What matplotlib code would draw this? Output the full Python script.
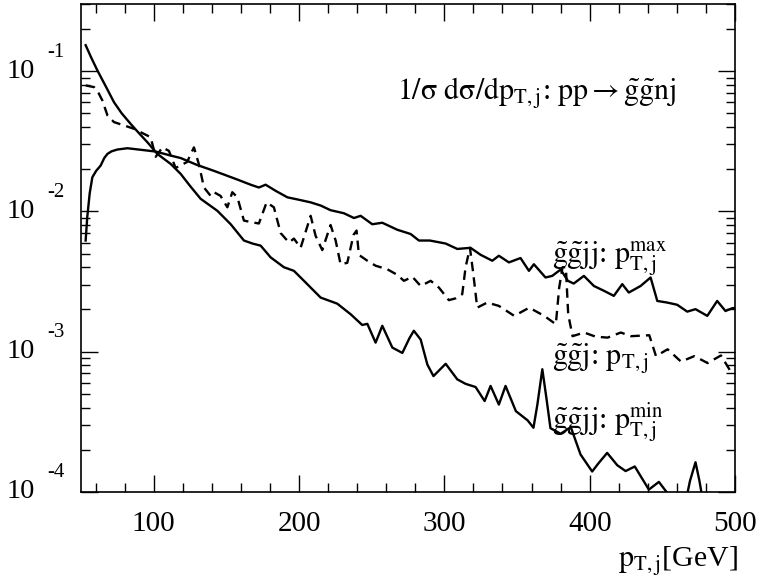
import matplotlib
matplotlib.use('Agg')
import matplotlib.pyplot as plt
from matplotlib.ticker import LogLocator, NullFormatter

plt.rcParams['font.family'] = ['Liberation Serif', 'DejaVu Serif']
plt.rcParams['mathtext.fontset'] = 'stix'

# g~g~jj, leading jet pT (max)
pt_max = [53.2, 54.3, 56.0, 57.8, 60.5, 63.5, 66.0, 68.2, 71.0, 75.0, 81.9, 91.0,
          101.4, 111.7, 118.6, 125.0, 130.0, 140.0, 148.4, 158.0, 166.7, 172.4,
          177.0, 184.0, 192.0, 200.0, 208.0, 215.0, 221.7, 230.9, 237.8, 242.4,
          250.4, 257.3, 267.6, 276.8, 282.5, 290.0, 300.9, 308.9, 318.0, 325.0,
          333.0, 337.5, 344.4, 352.4, 358.2, 361.6, 369.6, 374.2, 380.0, 385.0,
          389.0, 396.0, 402.9, 409.7, 416.6, 422.4, 426.9, 435.0, 441.9, 446.5,
          453.3, 460.2, 467.1, 472.8, 480.9, 487.7, 493.4, 498.0, 500.0]
val_max = [6.2e-3, 9.1e-3, 1.35e-2, 1.75e-2, 1.95e-2, 2.12e-2, 2.40e-2, 2.57e-2,
           2.68e-2, 2.76e-2, 2.82e-2, 2.75e-2, 2.67e-2, 2.50e-2, 2.40e-2, 2.25e-2,
           2.14e-2, 1.97e-2, 1.83e-2, 1.68e-2, 1.55e-2, 1.48e-2, 1.55e-2, 1.40e-2,
           1.26e-2, 1.21e-2, 1.16e-2, 1.10e-2, 1.02e-2, 9.7e-3, 8.97e-3, 9.3e-3,
           8.1e-3, 8.3e-3, 7.4e-3, 6.9e-3, 6.2e-3, 6.2e-3, 5.9e-3, 5.4e-3, 5.5e-3,
           4.9e-3, 4.45e-3, 4.83e-3, 4.33e-3, 4.65e-3, 3.77e-3, 4.2e-3, 3.38e-3,
           3.47e-3, 3.85e-3, 3.2e-3, 3.06e-3, 3.47e-3, 2.94e-3, 2.72e-3, 2.5e-3,
           3.03e-3, 2.64e-3, 2.94e-3, 3.38e-3, 2.3e-3, 2.24e-3, 2.16e-3, 1.93e-3,
           2.01e-3, 1.8e-3, 2.3e-3, 1.95e-3, 2.04e-3, 2.05e-3]

# g~g~j, jet pT (dashed)
pt_j = [53.2, 59.0, 62.0, 64.7, 68.2, 72.7, 79.6, 86.5, 91.0, 97.9, 101.4, 106.0,
        110.5, 115.1, 123.0, 127.7, 131.2, 134.6, 139.2, 141.5, 146.0, 150.7,
        154.1, 157.6, 162.1, 166.7, 172.4, 177.7, 182.7, 187.4, 193.1, 196.5,
        201.1, 208.0, 211.4, 216.0, 221.7, 225.2, 228.6, 233.2, 237.5, 239.6,
        241.2, 247.0, 252.7, 260.7, 267.6, 272.2, 278.0, 283.7, 290.6, 296.3,
        303.1, 307.7, 312.3, 314.6, 317.6, 319.9, 322.6, 329.5, 337.5, 348.1,
        358.4, 368.7, 376.7, 379.0, 381.3, 383.6, 385.2, 388.2, 396.2, 404.0,
        412.3, 421.4, 428.3, 441.0, 445.6, 453.6, 462.8, 472.0, 481.1, 490.3,
        497.1, 500.0]
val_j = [7.9e-2, 7.69e-2, 7.0e-2, 6.18e-2, 4.83e-2, 4.33e-2, 4.1e-2, 3.88e-2,
         3.67e-2, 3.38e-2, 2.45e-2, 2.86e-2, 2.7e-2, 2.04e-2, 2.25e-2, 2.86e-2,
         2.15e-2, 1.48e-2, 1.29e-2, 1.37e-2, 1.29e-2, 1.07e-2, 1.37e-2, 1.26e-2,
         8.6e-3, 8.4e-3, 8.2e-3, 1.16e-2, 1.07e-2, 7.0e-3, 6.0e-3, 6.4e-3,
         5.5e-3, 9.3e-3, 6.7e-3, 5.3e-3, 8.0e-3, 6.2e-3, 4.2e-3, 4.3e-3,
         6.8e-3, 7.3e-3, 4.9e-3, 4.45e-3, 4.1e-3, 3.87e-3, 3.53e-3, 3.2e-3,
         3.42e-3, 2.94e-3, 3.2e-3, 2.86e-3, 2.33e-3, 2.4e-3, 2.57e-3, 4.0e-3,
         5.5e-3, 3.6e-3, 2.06e-3, 2.24e-3, 2.12e-3, 1.8e-3, 2.06e-3, 1.8e-3,
         1.57e-3, 2.86e-3, 4.0e-3, 4.0e-3, 1.85e-3, 1.29e-3, 1.37e-3, 1.28e-3,
         1.26e-3, 1.37e-3, 1.29e-3, 1.31e-3, 9.3e-4, 1.04e-3, 8.5e-4, 9.3e-4,
         8.3e-4, 9.4e-4, 7.2e-4, 7.0e-4]

# g~g~jj, second jet pT (min)
pt_min = [53.2, 57.0, 61.3, 67.0, 72.7, 78.0, 84.2, 90.0, 95.7, 102.5, 111.7,
          118.6, 125.0, 132.3, 143.8, 153.0, 162.1, 168.0, 173.6, 180.5, 189.6,
          196.5, 203.4, 214.9, 226.3, 235.5, 243.5, 247.0, 252.7, 257.3, 264.2,
          271.1, 276.0, 279.0, 283.7, 288.3, 292.5, 300.9, 308.9, 314.6, 321.5,
          327.7, 331.8, 337.5, 342.1, 349.2, 357.3, 361.3, 364.0, 367.4, 370.3,
          373.0, 380.0, 387.0, 393.7, 401.7, 406.0, 412.0, 419.0, 424.7, 431.0,
          440.7, 447.6, 454.5, 460.0, 466.0, 469.0, 472.8, 475.5, 478.0, 490.0,
          500.0]
val_min = [1.53e-1, 1.25e-1, 1.01e-1, 7.8e-2, 6.0e-2, 5.0e-2, 4.2e-2, 3.6e-2,
           3.11e-2, 2.57e-2, 2.18e-2, 1.85e-2, 1.52e-2, 1.23e-2, 1.01e-2, 8.1e-3,
           6.2e-3, 5.9e-3, 5.7e-3, 4.7e-3, 4.0e-3, 3.77e-3, 3.2e-3, 2.43e-3,
           2.2e-3, 1.85e-3, 1.55e-3, 1.58e-3, 1.16e-3, 1.53e-3, 1.07e-3, 9.8e-4,
           1.25e-3, 1.41e-3, 1.22e-3, 8.1e-4, 6.7e-4, 8.2e-4, 6.35e-4, 5.9e-4,
           5.6e-4, 4.45e-4, 5.7e-4, 4.2e-4, 5.7e-4, 3.77e-4, 3.24e-4, 2.87e-4,
           4.2e-4, 7.5e-4, 4.6e-4, 2.85e-4, 2.6e-4, 2.9e-4, 1.85e-4, 1.4e-4,
           1.6e-4, 1.9e-4, 1.55e-4, 1.41e-4, 1.52e-4, 1.04e-4, 1.18e-4, 9.5e-5,
           8.0e-5, 8.5e-5, 1.2e-4, 1.63e-4, 1.2e-4, 8.5e-5, 6.0e-5, 5.0e-5]

xticks_major = [100, 200, 300, 400, 500]
yticks_major = [1e-4, 1e-3, 1e-2, 1e-1]
ytick_exp = ['-4', '-3', '-2', '-1']

fig = plt.figure(figsize=(7.57, 5.78), dpi=100)
ax = fig.add_axes([0.107, 0.1488, 0.864, 0.844])

ax.plot(pt_max, val_max, color='black', lw=1.7, solid_joinstyle='round')
ax.plot(pt_min, val_min, color='black', lw=1.7, solid_joinstyle='round')
ax.plot(pt_j, val_j, color='black', lw=1.7, dashes=(4, 2.6))

ax.set_yscale('log')
ax.set_xlim(50, 500)
ax.set_ylim(1e-4, 0.3)

ax.set_xticks(xticks_major)
ax.set_xticks(range(60, 500, 20), minor=True)
ax.set_yticks(yticks_major)
ax.yaxis.set_minor_locator(LogLocator(base=10, subs=[2, 3, 4, 5, 6, 7, 8, 9], numticks=20))
ax.yaxis.set_minor_formatter(NullFormatter())
ax.set_yticklabels([])
ax.tick_params(which='both', direction='in', top=True, right=True, width=1)
ax.tick_params(which='major', length=12.5)
ax.tick_params(which='minor', length=6.5)
ax.tick_params(axis='x', which='major', labelsize=21, pad=13.5)
for s in ax.spines.values():
    s.set_linewidth(1.2)

# y labels drawn as "10" plus raised exponent, like the original
for v, e in zip(yticks_major, ytick_exp):
    ax.annotate('10', xy=(0, v), xycoords=('axes fraction', 'data'),
                xytext=(-46, 0), textcoords='offset pixels',
                ha='right', va='center', fontsize=20.5, annotation_clip=False)
    ax.annotate(e, xy=(0, v), xycoords=('axes fraction', 'data'),
                xytext=(-34, 19), textcoords='offset pixels',
                ha='left', va='center', fontsize=15, annotation_clip=False)

fs = 21.5
ax.text(0.483, 0.803,
        r'$\mathrm{1/\sigma\ d\sigma/dp_{T,j}}$: $\mathrm{pp \rightarrow \tilde{g}\tilde{g}nj}$',
        transform=ax.transAxes, ha='left', va='baseline', fontsize=fs)
ax.text(0.720, 0.470, r'$\mathrm{\tilde{g}\tilde{g}jj}$: $\mathrm{p_{T,j}^{max}}$',
        transform=ax.transAxes, ha='left', va='baseline', fontsize=fs)
ax.text(0.720, 0.260, r'$\mathrm{\tilde{g}\tilde{g}j}$: $\mathrm{p_{T,j}}$',
        transform=ax.transAxes, ha='left', va='baseline', fontsize=fs)
ax.text(0.720, 0.131, r'$\mathrm{\tilde{g}\tilde{g}jj}$: $\mathrm{p_{T,j}^{min}}$',
        transform=ax.transAxes, ha='left', va='baseline', fontsize=fs)
ax.text(1.004, -0.154, r'$\mathrm{p_{T,j}}$[GeV]',
        transform=ax.transAxes, ha='right', va='baseline', fontsize=fs)

fig.savefig('out.png', dpi=100)
